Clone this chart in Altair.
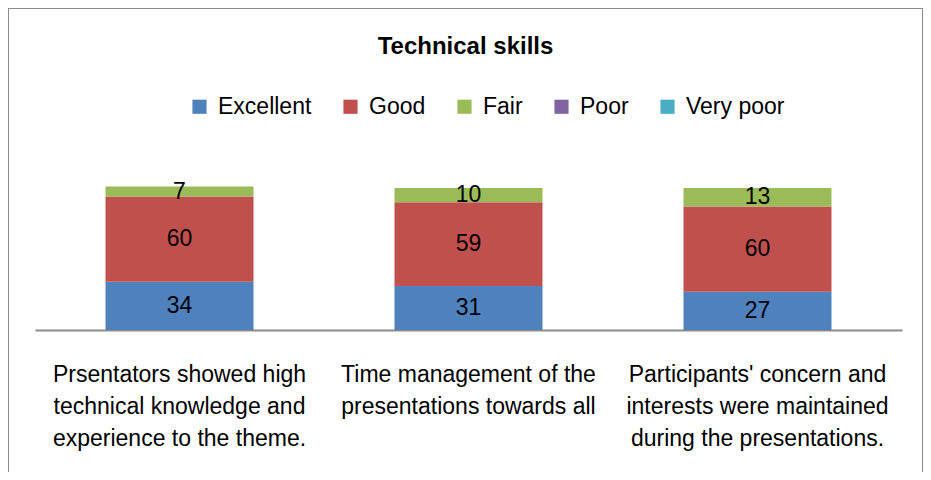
import altair as alt
import pandas as pd

items = [
    "Prsentators showed high|technical knowledge and|experience to the theme.",
    "Time management of the|presentations towards all",
    "Participants' concern and|interests were maintained|during the presentations.",
]
ratings = ["Excellent", "Good", "Fair", "Poor", "Very poor"]
colors = ["#4F81BD", "#C0504D", "#9BBB59", "#8064A2", "#4BACC6"]
excellent = [34, 31, 27]
good = [60, 59, 60]
fair = [7, 10, 13]

series = [("Excellent", excellent), ("Good", good), ("Fair", fair)]
rows = []
for i, it in enumerate(items):
    for r, (name, vals) in enumerate(series):
        rows.append({"item": it, "rating": name, "order": r, "value": vals[i]})
df = pd.DataFrame(rows)

FONT = "Liberation Sans"

base = (
    alt.Chart(df)
    .transform_stack(
        stack="value",
        groupby=["item"],
        as_=["y0", "y1"],
        sort=[alt.SortField("order", order="ascending")],
    )
    .transform_calculate(mid="(datum.y0 + datum.y1) / 2")
)

xenc = alt.X(
    "item:N",
    sort=items,
    scale=alt.Scale(range=[27, 894], paddingInner=0, paddingOuter=0),
    axis=alt.Axis(
        title=None,
        ticks=False,
        grid=False,
        offset=-152,
        domainColor="#8c8c8c",
        domainWidth=2,
        labelAngle=0,
        labelFont=FONT,
        labelFontSize=23,
        labelColor="black",
        labelLineHeight=32,
        labelBaseline="top",
        labelPadding=33,
        labelLimit=400,
        labelOverlap=False,
        labelExpr="split(datum.label, '|')",
    ),
)
yscale = alt.Scale(domain=[0, 100], range=[322, 180], nice=False)

bars = base.mark_bar(size=148).encode(
    x=xenc,
    y=alt.Y("y0:Q", scale=yscale, axis=None),
    y2="y1:Q",
    color=alt.Color(
        "rating:N",
        scale=alt.Scale(domain=ratings, range=colors),
        legend=alt.Legend(
            title=None,
            orient="none",
            legendX=180,
            legendY=87,
            direction="horizontal",
            columns=5,
            symbolType="square",
            symbolSize=200,
            symbolStrokeWidth=0,
            labelFont=FONT,
            labelFontSize=23,
            labelColor="black",
            labelOffset=7,
            columnPadding=27,
        ),
    ),
    order=alt.Order("order:Q"),
)

labels = base.mark_text(font=FONT, fontSize=23, color="black", baseline="middle").encode(
    x=xenc,
    y=alt.Y("mid:Q", scale=yscale, axis=None),
    text="value:Q",
)

chart = (
    alt.layer(bars, labels)
    .properties(
        width=915,
        height=474,
        padding={"left": 0, "top": 0, "right": 0, "bottom": -10},
        autosize=alt.AutoSizeParams(type="none"),
        title=alt.TitleParams(
            "Technical skills",
            font=FONT,
            fontSize=24,
            fontWeight="bold",
            color="black",
            anchor="middle",
            frame="group",
            baseline="alphabetic",
            offset=-70,
        ),
    )
    .configure_view(stroke="#8c8c8c", strokeWidth=2)
)

chart.save("out.html", embed_options={"renderer": "svg", "actions": False})
